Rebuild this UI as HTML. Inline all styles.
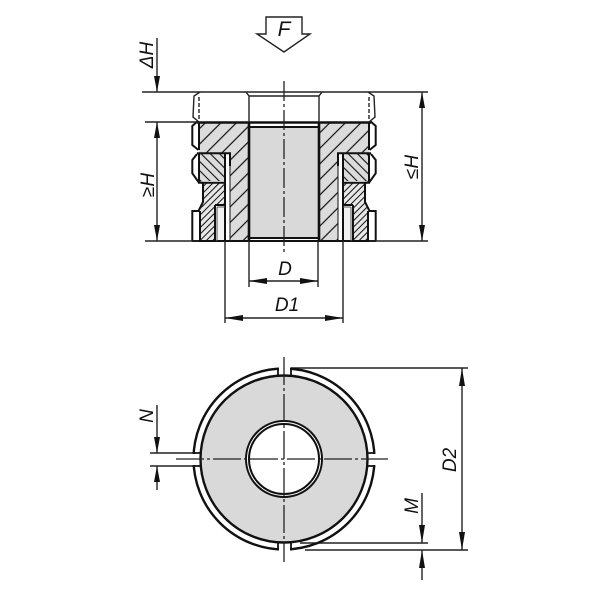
<!DOCTYPE html>
<html><head><meta charset="utf-8"><style>
html,body{margin:0;padding:0;background:#fff}
svg{display:block}
text{font-family:"Liberation Sans",sans-serif;font-style:italic;fill:#111;font-size:19px;text-anchor:middle}
</style></head><body>
<svg width="600" height="600" viewBox="0 0 600 600" xmlns="http://www.w3.org/2000/svg">
<defs>
<pattern id="a" width="11" height="11" patternUnits="userSpaceOnUse" patternTransform="rotate(45)"><rect width="11" height="11" fill="#dcdcdc"/><line x1="1" y1="0" x2="1" y2="11" stroke="#111" stroke-width="1.2"/></pattern>
<pattern id="b" width="6.5" height="6.5" patternUnits="userSpaceOnUse" patternTransform="rotate(-45)"><rect width="6.5" height="6.5" fill="#dcdcdc"/><line x1="1" y1="0" x2="1" y2="6.5" stroke="#111" stroke-width="1.1"/></pattern>
<pattern id="c" width="4.5" height="4.5" patternUnits="userSpaceOnUse" patternTransform="rotate(45)"><rect width="4.5" height="4.5" fill="#e6e6e6"/><line x1="1" y1="0" x2="1" y2="4.5" stroke="#111" stroke-width="1"/></pattern>
</defs>

<!-- force arrow -->
<path d="M266 17H302V34H310L284 52L257 34H266Z" fill="#fff" stroke="#222" stroke-width="1.4"/>
<text x="284" y="36" style="font-size:21px">F</text>

<!-- section: fills -->
<rect x="250" y="127" width="68" height="111" fill="#d9d9d9"/>
<path d="M199 123H249V241H230V153H199Z" fill="url(#a)"/>
<path d="M369 123H319V241H338V153H369Z" fill="url(#a)"/>
<rect x="199" y="154" width="26" height="27" fill="url(#b)"/>
<rect x="343" y="154" width="26" height="27" fill="url(#b)"/>
<path d="M203 183H225V205H215V241H200V211L203 203Z" fill="url(#c)"/>
<path d="M365 183H343V205H353V241H368V211L365 203Z" fill="url(#c)"/>
<rect x="217" y="207" width="8" height="34" fill="#f2f2f2"/>
<rect x="343" y="207" width="8" height="34" fill="#f2f2f2"/>

<g fill="none" stroke="#111" stroke-width="2">
<!-- left profile -->
<path d="M199 122H196.7L192.3 126V145L198.5 150"/>
<path d="M197 154L192.3 160V173.3L198.3 181.7L203 183V202L198.5 211H192.3V241"/>
<path d="M199 122V150M199 154V181M200 211V241"/>
<path d="M197 153.3H230V166M198 182.7H225"/>
<path d="M225 153V241M215 205H225M215 205V241"/>
<!-- right profile -->
<path d="M369 122H371.3L375.7 126V145L369.5 150"/>
<path d="M371 154L375.7 160V173.3L369.7 181.7L365 183V202L369.5 211H375.7V241"/>
<path d="M369 122V150M369 154V181M368 211V241"/>
<path d="M371 153.3H338V166M370 182.7H343"/>
<path d="M343 153V241M353 205H343M353 205V241"/>
<!-- bore -->
<path d="M249 123V241M319 123V241" stroke-width="2.6"/>
<path d="M197 122.5H371" stroke-width="2.4"/>
<path d="M249 127H319M249 238H319" stroke-width="2"/>
<path d="M192 241H376" stroke-width="2"/>
</g>
<path d="M230 166V241M338 166V241" fill="none" stroke="#222" stroke-width="1.1"/>
<path d="M217 207H225M343 207H351M217 207V241M351 207V241" fill="none" stroke="#555" stroke-width="1"/>

<!-- nut top -->
<g fill="none" stroke="#222" stroke-width="1.4">
<path d="M200 92L194 96L193 117L199 122M368 92L374 96L375 117L369 122"/>
<path d="M199 97V120M369 97V120" stroke-dasharray="4 2" />
<path d="M246 92L249 96V122M322 92L319 96V122M249 96H319"/>
</g>

<!-- extension lines -->
<g fill="none" stroke="#222" stroke-width="1.4">
<path d="M142 92H428M145 122H199M145 241H199M369 241H428"/>
<path d="M157 38V92M157 122V241M422 92V241"/>
<path d="M225 241V323M343 241V323M249 241V287M318 241V287"/>
<path d="M249 281H318M225 318H343"/>
<path d="M291 368H468M300 543H428M305 550H468M150 453H195M150 466H195"/>
<path d="M157 405V453M157 466V490M422 493V543M422 550V580M462 368V550"/>
</g>

<!-- arrowheads -->
<g fill="#111">
<path d="M157 92L154 76H160Z"/><path d="M157 122L154 138H160Z"/><path d="M157 241L154 225H160Z"/>
<path d="M422 92L419 108H425Z"/><path d="M422 241L419 225H425Z"/>
<path d="M249 281L267 278V284Z"/><path d="M318 281L300 278V284Z"/>
<path d="M225 318L243 315V321Z"/><path d="M343 318L325 315V321Z"/>
<path d="M157 453L154 437H160Z"/><path d="M157 466L154 482H160Z"/>
<path d="M422 543L419 525H425Z"/><path d="M422 550L419 568H425Z"/>
<path d="M462 368L459 386H465Z"/><path d="M462 550L459 532H465Z"/>
</g>

<!-- plan view -->
<circle cx="284" cy="459" r="83" fill="#d9d9d9"/>
<circle cx="284" cy="459" r="38" fill="#fff" stroke="#111" stroke-width="2"/>
<circle cx="284" cy="459" r="35" fill="#fff" stroke="#111" stroke-width="2"/>
<circle cx="284" cy="459" r="90.5" fill="none" stroke="#111" stroke-width="2.4"/>
<g fill="#fff">
<rect x="279" y="366" width="11" height="8"/>
<rect x="279" y="544" width="11" height="8"/>
<rect x="191" y="454" width="9" height="11"/>
<rect x="368" y="454" width="9" height="11"/>
</g>
<circle cx="284" cy="459" r="83.5" fill="none" stroke="#111" stroke-width="2.4"/>
<g fill="none" stroke="#111" stroke-width="1.8">
<path d="M278 368.5V375M291 368.5V375M278 549.5V543M291 549.5V543"/>
<path d="M193.5 453H200M193.5 466H200M374.5 453H368M374.5 466H368"/>
</g>

<!-- centre lines -->
<g fill="none" stroke="#222" stroke-width="1.3">
<path d="M284 81V252" stroke-dasharray="20 3 3 3"/>
<path d="M284 357V562" stroke-dasharray="28 3 3 3"/>
<path d="M176 459H388" stroke-dasharray="28 3 3 3"/>
</g>

<!-- labels -->
<text x="285" y="275">D</text>
<text x="287" y="311">D1</text>
<text transform="translate(153,55) rotate(-90)">ΔH</text>
<text transform="translate(154,185) rotate(-90)">≥H</text>
<text transform="translate(418,167) rotate(-90)">≤H</text>
<text transform="translate(153,416) rotate(-90)">N</text>
<text transform="translate(418,506) rotate(-90)">M</text>
<text transform="translate(456,460) rotate(-90)">D2</text>
</svg>
</body></html>
